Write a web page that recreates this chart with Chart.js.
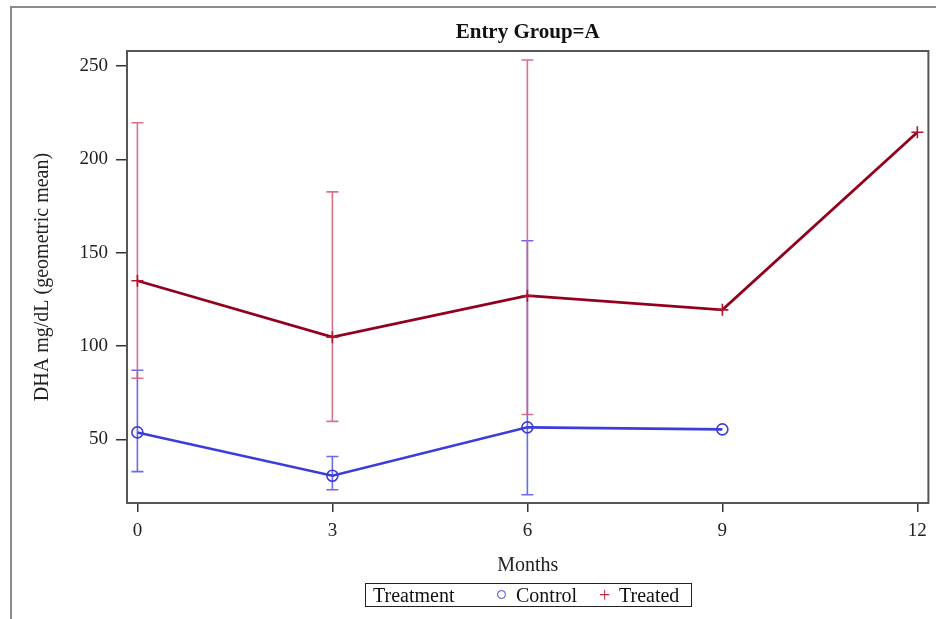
<!DOCTYPE html>
<html>
<head>
<meta charset="utf-8">
<script src="https://cdn.jsdelivr.net/npm/chart.js@4/dist/chart.umd.min.js"></script>
<style>
  html, body { margin: 0; padding: 0; background: #fff; }
  #wrap { position: relative; width: 936px; height: 619px; overflow: hidden; }
  #frame {
    position: absolute; left: 10px; top: 6px; width: 940px; height: 640px;
    border-top: 2px solid #8c8c8c; border-left: 2px solid #8c8c8c;
  }
  #legend {
    position: absolute; left: 365px; top: 583px; width: 325px; height: 22px;
    border: 1.5px solid #222; font-family: 'Liberation Serif', 'Times New Roman', serif;
    font-size: 20px; color: #111; line-height: 22px;
  }
  #legend span { position: absolute; top: 0; white-space: nowrap; }
  #legend .dot {
    top: 6px; width: 7px; height: 7px; border: 1.6px solid #3c3ce0; border-radius: 50%;
  }
  #legend .plus { color: #c8283c; font-size: 20px; }
</style>
</head>
<body>
<div id="wrap">
  <canvas id="chart" width="936" height="619"></canvas>
  <div id="frame"></div>
  <div id="legend">
    <span style="left:7px">Treatment</span>
    <span class="dot" style="left:131px"></span>
    <span style="left:150px">Control</span>
    <span class="plus" style="left:233px">+</span>
    <span style="left:253px">Treated</span>
  </div>
</div>
<script>
const X_TICKS = [0, 3, 6, 9, 12];
const Y_TICKS = [50, 100, 150, 200, 250];

const CONTROL_MONTHS = [0, 3, 6, 9];
const CONTROL_MEAN = [53.8, 30.6, 56.5, 55.4];
const CONTROL_LOWER = [32.8, 23.1, 20.4, null];
const CONTROL_UPPER = [87.1, 40.9, 156.4, null];

const TREATED_MONTHS = [0, 3, 6, 9, 12];
const TREATED_MEAN = [135.0, 104.8, 127.0, 119.4, 214.5];
const TREATED_LOWER = [82.8, 59.7, 63.4, null, null];
const TREATED_UPPER = [219.6, 182.6, 253.2, null, null];

const TITLE = 'Entry Group=A';
const SERIF = "'Liberation Serif', 'Times New Roman', serif";
const INK = '#222';

const toPoints = (xs, ys) => xs.map((x, i) => ({ x, y: ys[i] }));

// Error bars are read from the dataset's own lower/upper arrays, placed through the scales.
const errorBars = {
  id: 'errorBars',
  beforeDatasetsDraw(chart) {
    const { ctx, scales: { x, y } } = chart;
    chart.data.datasets.forEach((ds) => {
      ctx.save();
      ctx.strokeStyle = ds.errorColor;
      ctx.lineWidth = 1.6;
      ds.data.forEach((p, i) => {
        const lo = ds.lower[i];
        const hi = ds.upper[i];
        if (lo == null || hi == null) return;
        const px = x.getPixelForValue(p.x);
        const yLo = y.getPixelForValue(lo);
        const yHi = y.getPixelForValue(hi);
        ctx.beginPath();
        ctx.moveTo(px, yLo); ctx.lineTo(px, yHi);
        ctx.moveTo(px - 6, yLo); ctx.lineTo(px + 6, yLo);
        ctx.moveTo(px - 6, yHi); ctx.lineTo(px + 6, yHi);
        ctx.stroke();
      });
      ctx.restore();
    });
  },
};

// Box round the plot area, and the title centred over it (not over the canvas).
const plotFrame = {
  id: 'plotFrame',
  afterDraw(chart) {
    const { ctx, chartArea: a } = chart;
    ctx.save();
    ctx.strokeStyle = '#555';
    ctx.lineWidth = 2;
    ctx.strokeRect(a.left, a.top, a.right - a.left, a.bottom - a.top);
    ctx.fillStyle = '#111';
    ctx.font = `bold 21px ${SERIF}`;
    ctx.textAlign = 'center';
    ctx.textBaseline = 'middle';
    ctx.fillText(TITLE, (a.left + a.right) / 2, 33);
    ctx.restore();
  },
};

new Chart(document.getElementById('chart'), {
  type: 'line',
  data: {
    datasets: [
      {
        label: 'Control',
        data: toPoints(CONTROL_MONTHS, CONTROL_MEAN),
        lower: CONTROL_LOWER,
        upper: CONTROL_UPPER,
        errorColor: 'rgba(90, 90, 235, 0.9)',
        borderColor: '#3c3cdc',
        borderWidth: 2.6,
        pointStyle: 'circle',
        pointRadius: 5.5,
        pointBorderWidth: 1.6,
        pointBorderColor: '#3c3cdc',
        pointBackgroundColor: 'rgba(0,0,0,0)',
        tension: 0,
      },
      {
        label: 'Treated',
        data: toPoints(TREATED_MONTHS, TREATED_MEAN),
        lower: TREATED_LOWER,
        upper: TREATED_UPPER,
        errorColor: 'rgba(210, 100, 122, 0.9)',
        borderColor: '#92001e',
        borderWidth: 2.8,
        pointStyle: 'cross',
        pointRadius: 6,
        pointBorderWidth: 1.6,
        pointBorderColor: '#b4142e',
        tension: 0,
      },
    ],
  },
  options: {
    responsive: false,
    animation: false,
    layout: { padding: { left: 22, right: 7, top: 51, bottom: 0 } },
    plugins: {
      legend: { display: false },
      tooltip: { enabled: false },
      title: { display: false },
    },
    scales: {
      x: {
        type: 'linear',
        min: -0.16,
        max: 12.17,
        afterFit: (s) => { s.height = 116; },
        afterBuildTicks: (s) => { s.ticks = X_TICKS.map((v) => ({ value: v })); },
        border: { display: false },
        grid: { drawOnChartArea: false, drawTicks: true, tickLength: 9, color: '#333', lineWidth: 1.5 },
        ticks: { color: INK, font: { family: SERIF, size: 19 }, padding: 8 },
        title: {
          display: true, text: 'Months', color: INK,
          font: { family: SERIF, size: 20 }, padding: { top: 0, bottom: 41 },
        },
      },
      y: {
        type: 'linear',
        min: 16,
        max: 258,
        afterFit: (s) => { s.width = 105; },
        afterBuildTicks: (s) => { s.ticks = Y_TICKS.map((v) => ({ value: v })); },
        border: { display: false },
        grid: { drawOnChartArea: false, drawTicks: true, tickLength: 11, color: '#333', lineWidth: 1.5 },
        ticks: { color: INK, font: { family: SERIF, size: 19 }, padding: 8 },
        title: {
          display: true, text: 'DHA mg/dL (geometric mean)', color: INK,
          font: { family: SERIF, size: 20 }, padding: { top: 9, bottom: 0 },
        },
      },
    },
  },
  plugins: [errorBars, plotFrame],
});
</script>
</body>
</html>
